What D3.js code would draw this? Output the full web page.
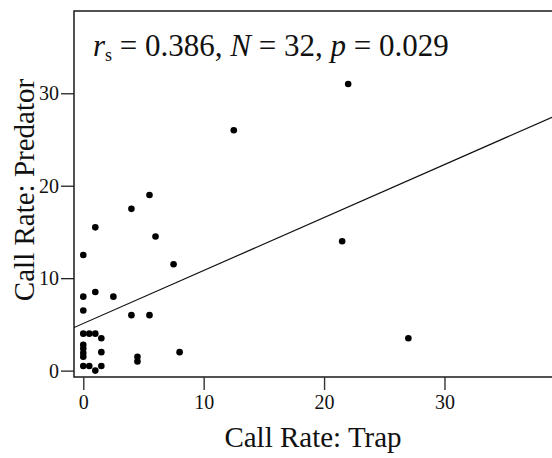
<!DOCTYPE html>
<html>
<head>
<meta charset="utf-8">
<script src="https://cdn.jsdelivr.net/npm/d3@7"></script>
<style>
  body { margin: 0; background: #fff; }
  text { font-family: "Liberation Serif", "DejaVu Serif", serif; fill: #111; }
</style>
</head>
<body>
<div id="chart"></div>
<script>
//Call rate data (trap vs predator)
const trapRate = [22, 12.5, 4, 5.5, 1, 6, 0, 7.5, 0, 1, 2.5, 0, 4, 5.5,
    0, 0.5, 1, 1.5, 0, 0, 0, 0, 1.5, 4.5, 4.5, 8, 0, 0.5, 1.5, 1, 21.5, 27];
const predatorRate = [31, 26, 17.5, 19, 15.5, 14.5, 12.5, 11.5, 8, 8.5, 8, 6.5, 6, 6,
    4, 4, 4, 3.5, 2.8, 2.4, 1.9, 1.5, 2, 1.5, 1, 2, 0.5, 0.5, 0.5, 0, 14, 3.5];
const xTicks = [0, 10, 20, 30];
const yTicks = [0, 10, 20, 30];
//Fitted line: intercept and slope
const fitLine = {intercept: 5.1, slope: 0.573};

const data = trapRate.map((d, i) => ({trap: d, predator: predatorRate[i]}));

const width = 552, height = 458;
const margin = {left: 74, right: 0, top: 11, bottom: 81};
const innerW = width - margin.left - margin.right;
const innerH = height - margin.top - margin.bottom;

const svg = d3.select("#chart")
    .append("svg")
    .attr("width", width)
    .attr("height", height);

const g = svg.append("g")
    .attr("transform", `translate(${margin.left},${margin.top})`);

const xScale = d3.scaleLinear().domain([-0.77, 38.93]).range([0, innerW]);
const yScale = d3.scaleLinear().domain([-0.69, 38.9]).range([innerH, 0]);

//Frame: top, left and bottom lines
g.append("path")
    .attr("d", `M${innerW + 2},0H0V${innerH}H${innerW + 2}`)
    .attr("fill", "none")
    .attr("stroke", "#1a1a1a")
    .attr("stroke-width", 1.5);

//Axes
const xAxis = g.append("g")
    .attr("transform", `translate(0,${innerH})`)
    .call(d3.axisBottom(xScale).tickValues(xTicks).tickSize(13).tickPadding(5).tickFormat(d3.format("d")));
xAxis.select(".domain").remove();
xAxis.selectAll("line").attr("stroke", "#333").attr("stroke-width", 1.4);
xAxis.selectAll("text").style("font-size", "20px").attr("fill", "#111")
    .style("font-family", "Liberation Serif");

const yAxis = g.append("g")
    .call(d3.axisLeft(yScale).tickValues(yTicks).tickSize(13).tickPadding(2).tickFormat(d3.format("d")));
yAxis.select(".domain").remove();
yAxis.selectAll("line").attr("stroke", "#222").attr("stroke-width", 1.3);
yAxis.selectAll("text").style("font-size", "20px").attr("fill", "#111")
    .style("font-family", "Liberation Serif");

//Clip so the fit line stays inside the plot
g.append("clipPath").attr("id", "plotClip")
    .append("rect").attr("width", innerW).attr("height", innerH);

const xd = xScale.domain();
g.append("line")
    .attr("clip-path", "url(#plotClip)")
    .attr("x1", xScale(xd[0]))
    .attr("y1", yScale(fitLine.intercept + fitLine.slope * xd[0]))
    .attr("x2", xScale(xd[1]))
    .attr("y2", yScale(fitLine.intercept + fitLine.slope * xd[1]))
    .attr("stroke", "#111")
    .attr("stroke-width", 1.2);

//Points
g.selectAll("circle")
    .data(data)
    .enter()
    .append("circle")
    .attr("cx", d => xScale(d.trap))
    .attr("cy", d => yScale(d.predator))
    .attr("r", 3.3)
    .attr("fill", "#000");

//Statistics text
const stat = g.append("text")
    .attr("x", 19)
    .attr("y", 45)
    .style("font-size", "31px");
stat.append("tspan").style("font-style", "italic").text("r");
stat.append("tspan").attr("dy", 5).style("font-size", "18px").text("s");
stat.append("tspan").attr("dy", -5).text(" = 0.386, ");
stat.append("tspan").style("font-style", "italic").text("N");
stat.append("tspan").text(" = 32, ");
stat.append("tspan").style("font-style", "italic").text("p");
stat.append("tspan").text(" = 0.029");

//Axis titles
svg.append("text")
    .attr("x", margin.left + innerW / 2)
    .attr("y", 447)
    .attr("text-anchor", "middle")
    .style("font-size", "29px")
    .text("Call Rate: Trap");

svg.append("text")
    .attr("transform", "translate(34,190) rotate(-90)")
    .attr("text-anchor", "middle")
    .style("font-size", "29px")
    .text("Call Rate: Predator");
</script>
</body>
</html>
